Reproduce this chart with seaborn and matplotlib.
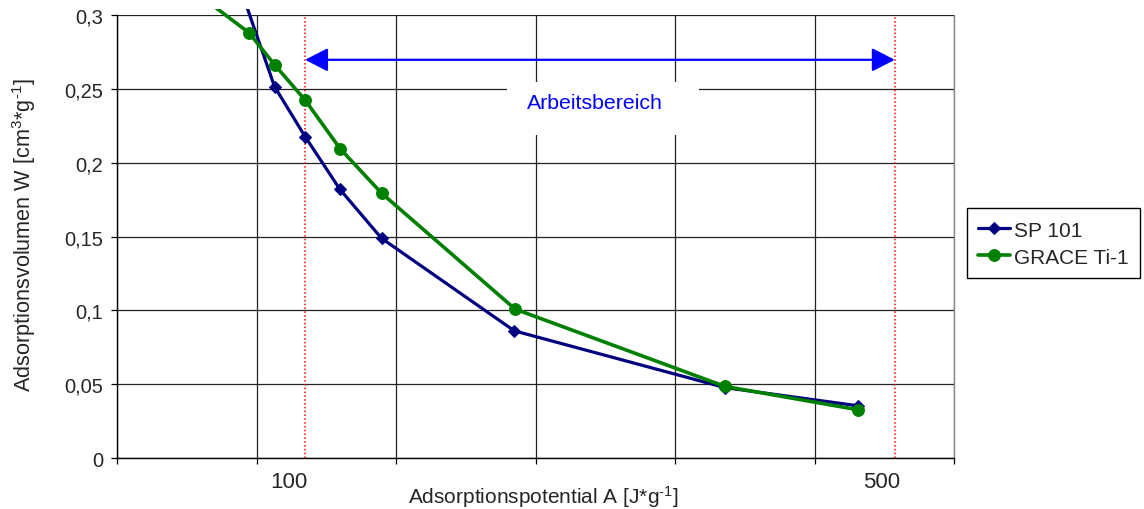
import numpy as np
import pandas as pd
import seaborn as sns
import matplotlib
matplotlib.use("Agg")
import matplotlib.pyplot as plt
import matplotlib.transforms as mtransforms
from matplotlib.patches import Rectangle
from matplotlib.ticker import FixedLocator, FuncFormatter, NullLocator

# Adsorption potential A [J/g] and adsorbed volume W [cm3/g]
sp101_A = [84.5, 92.0, 100.0, 110.0, 123.2, 177.0, 314.6, 452.6]
sp101_W = [0.312, 0.2514, 0.2176, 0.1818, 0.1488, 0.0862, 0.0478, 0.0355]

grace_A = [75.0, 85.8, 92.0, 100.0, 110.0, 123.2, 177.4, 314.6, 452.6]
grace_W = [0.313, 0.2878, 0.2662, 0.2423, 0.2095, 0.1793, 0.1009, 0.0486, 0.0328]

series_names = ["SP 101", "GRACE Ti-1"]
range_limits = [100, 500]
range_label = "Arbeitsbereich"
y_ticks = [0, 0.05, 0.1, 0.15, 0.2, 0.25, 0.3]

sns.set_theme(style="white")
plt.rcParams["font.family"] = ["Liberation Sans", "DejaVu Sans"]
plt.rcParams["mathtext.fontset"] = "custom"
plt.rcParams["mathtext.rm"] = "Liberation Sans"
plt.rcParams["mathtext.it"] = "Liberation Sans"
plt.rcParams["mathtext.default"] = "regular"

fig = plt.figure(figsize=(11.44, 5.10), dpi=100)
ax = fig.add_axes([117.3 / 1144, 1 - 459.3 / 510, (954 - 117.3) / 1144, (459.3 - 15.7) / 510])

df_sp = pd.DataFrame({"A": sp101_A, "W": sp101_W})
df_gr = pd.DataFrame({"A": grace_A, "W": grace_W})

navy = "#000080"
green = "#008000"
sns.lineplot(data=df_sp, x="A", y="W", ax=ax, color=navy, lw=2.3, marker="D",
             markersize=6.5, markeredgecolor=navy, label=series_names[0], zorder=4)
sns.lineplot(data=df_gr, x="A", y="W", ax=ax, color=green, lw=2.6, marker="o",
             markersize=8.5, markeredgecolor=green, label=series_names[1], zorder=5)

ax.set_xscale("log")
x_lo, x_hi = 59.9, 587.7
ax.set_xlim(x_lo, x_hi)
ax.set_ylim(0, 0.3)

# the curves may run a few pixels past the top gridline before being cut
clip_box = mtransforms.TransformedBbox(mtransforms.Bbox([[0, 0], [1, 1.0128]]), ax.transAxes)
for ln in ax.lines:
    ln.set_clip_box(clip_box)

grid_x = np.geomspace(x_lo, x_hi, 7)
ax.xaxis.set_major_locator(FixedLocator(grid_x))
ax.xaxis.set_minor_locator(NullLocator())
ax.xaxis.set_major_formatter(FuncFormatter(lambda v, p: ""))
ax.yaxis.set_major_locator(FixedLocator(y_ticks))
ax.yaxis.set_major_formatter(FuncFormatter(lambda v, p: f"{v:g}".replace(".", ",")))

ax.grid(True, which="major", color="#222222", lw=0.9, zorder=0)
ax.set_axisbelow(True)
ax.spines["top"].set_visible(False)
ax.spines["right"].set_color("#888888")
ax.spines["right"].set_linewidth(1.0)
for s in ["left", "bottom"]:
    ax.spines[s].set_color("black")
    ax.spines[s].set_linewidth(1.0)

ax.tick_params(axis="x", which="major", direction="out", length=4, width=0.9,
               color="black", bottom=True, labelbottom=False)
ax.tick_params(axis="y", which="major", direction="out", length=4, width=0.9,
               color="black", left=True, labelsize=14.5, pad=6)

# working range markers
for v in range_limits:
    ax.axvline(v, color="red", ls=(0, (1, 1.5)), lw=1.1, zorder=2)

ax.annotate("", xy=(range_limits[1], 0.2695), xytext=(range_limits[0], 0.2695),
            arrowprops=dict(arrowstyle="<|-|>,head_length=1.4,head_width=0.72",
                            color="#0000FF", lw=1.6, shrinkA=0, shrinkB=0,
                            mutation_scale=10), zorder=6)

ax.add_patch(Rectangle((0.4658, 0.7288), 0.2294, 0.1195, transform=ax.transAxes,
                       facecolor="white", edgecolor="none", zorder=1))
ax.text(0.5703, 0.801, range_label, transform=ax.transAxes, color="#0000FF",
        fontsize=15.3, ha="center", va="center", zorder=6)

# labels for the working range limits below the axis
for v, dx in zip(range_limits, [-16.5, -13.5]):
    tr = ax.get_xaxis_transform() + mtransforms.ScaledTranslation(dx / 100, -23 / 100, fig.dpi_scale_trans)
    ax.text(v, 0, f"{v}", transform=tr, fontsize=16, ha="center", va="center")

ax.set_xlabel(r"Adsorptionspotential A [J*g$^{\text{-1}}$]", fontsize=15)
ax.xaxis.set_label_coords(0.5088, -0.057)
ax.set_ylabel(r"Adsorptionsvolumen W [cm$^{3}$*g$^{\text{-1}}$]", fontsize=15.6)
ax.yaxis.set_label_coords(-0.095, 0.5056)

leg = ax.legend(loc="upper left", bbox_to_anchor=(966.7 / 1144, 1 - 209.3 / 510),
                bbox_transform=fig.transFigure, borderaxespad=0, fontsize=15,
                frameon=True, fancybox=False, edgecolor="black", framealpha=1,
                handlelength=1.55, handletextpad=0.15, borderpad=0.55,
                handleheight=1.0, labelspacing=0.3)
leg.get_frame().set_linewidth(1.0)

fig.savefig("out.png", dpi=100, facecolor="white")
